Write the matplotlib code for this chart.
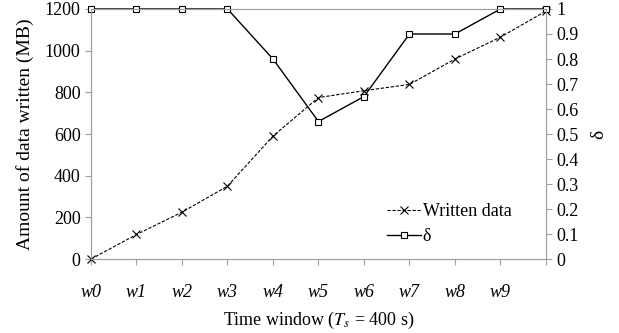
import matplotlib
matplotlib.use('Agg')
import matplotlib.pyplot as plt
import numpy as np

plt.rcParams['font.family'] = ['Liberation Serif', 'DejaVu Serif']
plt.rcParams['mathtext.fontset'] = 'stix'
plt.rcParams['font.size'] = 13

windows = ['w0', 'w1', 'w2', 'w3', 'w4', 'w5', 'w6', 'w7', 'w8', 'w9', '']
written = [0, 118, 225, 350, 590, 775, 808, 838, 960, 1065, 1190]
delta = [1, 1, 1, 1, 0.8, 0.55, 0.65, 0.9, 0.9, 1, 1]

x = np.arange(len(windows))

fig = plt.figure(figsize=(6.19, 3.33), dpi=100)
ax = fig.add_axes([0.147, 0.222, 0.735, 0.751])
ax2 = ax.twinx()

l1, = ax.plot(x, written, color='black', linestyle=(0, (3, 1.5)), linewidth=0.8,
              marker='x', markersize=6, markeredgewidth=0.8, label='Written data',
              clip_on=False)
l2, = ax2.plot(x, delta, color='black', linestyle='-', linewidth=1.0,
               marker='s', markersize=5, markerfacecolor='white',
               markeredgewidth=0.8, label='δ', clip_on=False)

ax.set_xlim(0, 10)
ax.set_ylim(0, 1200)
ax.set_yticks(np.arange(0, 1201, 200))
ax2.set_ylim(0, 1)
ax2.set_yticks(np.arange(0, 1.01, 0.1))
ax2.set_yticklabels(['0'] + ['%.1f' % v for v in np.arange(0.1, 0.95, 0.1)] + ['1'])

ax.set_xticks(x)
ax.set_xticklabels(windows, fontstyle='italic')

for a in (ax, ax2):
    for s in a.spines.values():
        s.set_color('#a0a0a0')
        s.set_linewidth(0.8)
    a.tick_params(length=4, width=0.8, color='#a0a0a0', labelcolor='black')
ax.spines['left'].set_color('#808080')
ax.tick_params(axis='x', pad=14)

ax.set_ylabel('Amount of data written (MB)', fontsize=14, labelpad=8)
ax2.set_ylabel('δ', fontsize=14, labelpad=8)
ax.set_xlabel('Time window ($T_s$ = 400 s)', fontsize=13, labelpad=6)

ax2.legend([l1, l2], ['Written data', 'δ'], loc='lower right',
           bbox_to_anchor=(0.96, -0.01), frameon=False, fontsize=13,
           handlelength=1.9, handletextpad=0.1, labelspacing=0.45)

fig.savefig('out.png', dpi=100)
